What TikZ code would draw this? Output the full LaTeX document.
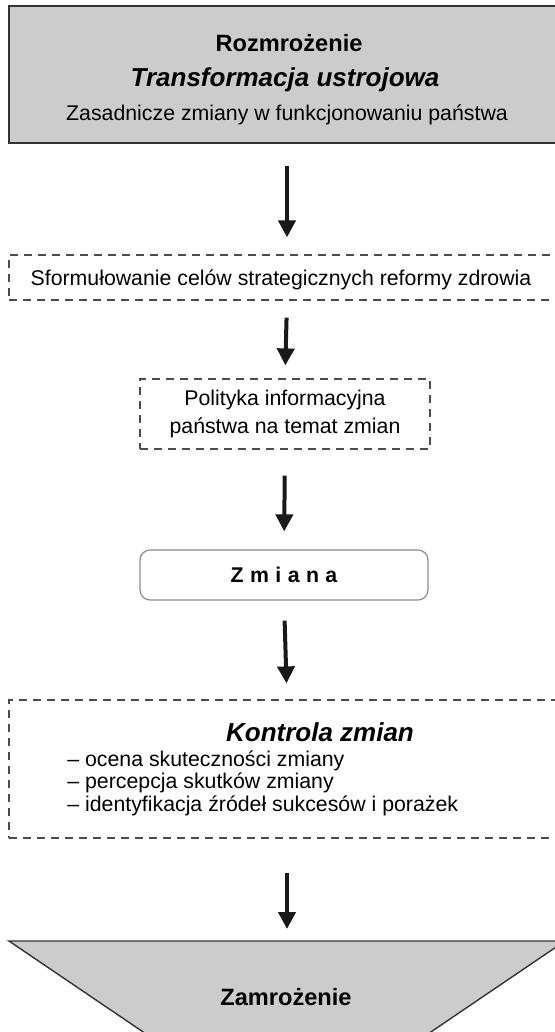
\documentclass[tikz,border=0pt]{standalone}
\usepackage{fontspec}
\setmainfont{Liberation Sans}
\usetikzlibrary{arrows.meta}

\begin{document}
\begin{tikzpicture}[x=0.5pt, y=-0.5pt,
    base/.style={font=\fontsize{10.65}{13}\selectfont, inner sep=0pt},
    solidbox/.style={draw=black!80, fill=black!20, line width=0.7pt},
    dashbox/.style={draw=black!70, dash pattern=on 4pt off 3pt, line width=0.6pt},
    roundbox/.style={draw=black!45, rounded corners=5pt, line width=0.6pt},
    flow/.style={-{Triangle[width=8.5pt,length=8.5pt]}, line width=2pt, draw=black!90}]
  \useasboundingbox (0,0) rectangle (555,1032);
  \clip (0,0) rectangle (555,1032);

  % thaw: system transformation
  \node[solidbox, base, minimum width=278pt, minimum height=68.5pt] (thaw) at (287,74.5) {};
  \node[base, font=\bfseries\fontsize{11.8}{14}\selectfont] (thawname) at (289,43) {Rozmrożenie};
  \node[base, font=\bfseries\itshape\fontsize{13}{16}\selectfont] (transf) at (285,80) {Transformacja ustrojowa};
  \node[base] (basic) at (287,115) {Zasadnicze zmiany w funkcjonowaniu państwa};

  % goals and information policy
  \node[dashbox, base, minimum width=278pt, minimum height=22.5pt] (goals) at (287,277.5) {};
  \node[base] (goalstext) at (281,280) {Sformułowanie celów strategicznych reformy zdrowia};
  \node[dashbox, base, minimum width=145pt, minimum height=35pt, align=center,
        font=\fontsize{10.65}{14}\selectfont] (info) at (285,414)
    {Polityka informacyjna\\państwa na temat zmian};

  % the change itself
  \node[roundbox, base, minimum width=144pt, minimum height=25pt,
        font=\bfseries\fontsize{10.65}{13}\selectfont\addfontfeature{LetterSpace=30}] (change) at (284,575) {Zmiana};

  % control of the change
  \node[dashbox, base, minimum width=278pt, minimum height=69pt] (control) at (287,769) {};
  \node[base, font=\bfseries\itshape\fontsize{13}{16}\selectfont] (ctitle) at (320,732) {Kontrola zmian};
  \node[base, anchor=west, align=left, font=\fontsize{10.65}{11.25}\selectfont] (clist) at (67,783)
    {-- ocena skuteczności zmiany\\-- percepcja skutków zmiany\\-- identyfikacja źródeł sukcesów i porażek};

  % freeze
  \filldraw[solidbox] (9,941) -- (565,941) -- (419,1040) -- (155,1040) -- cycle;
  \coordinate (freeze) at (287,941);
  \node[base, font=\bfseries\fontsize{11.8}{14}\selectfont] (freezename) at (286,997) {Zamrożenie};

  \draw[flow, shorten <=11pt, shorten >=8.5pt] (thaw.south) -- (goals.north);
  \draw[flow, shorten <=8.5pt, shorten >=6.5pt] (goals.south) -- (info.north);
  \draw[flow, shorten <=13pt, shorten >=9pt] (info.south) -- (change.north);
  \draw[flow, shorten <=10pt, shorten >=8pt] (change.south) -- (control.north);
  \draw[flow, shorten <=17pt, shorten >=6pt] (control.south) -- (freeze);
\end{tikzpicture}
\end{document}
